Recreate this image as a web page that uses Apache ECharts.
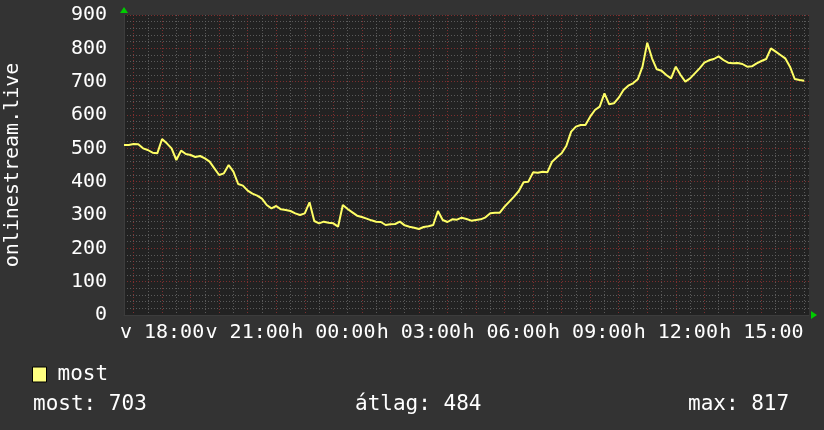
<!DOCTYPE html>
<html>
<head>
<meta charset="utf-8">
<script src="https://cdn.jsdelivr.net/npm/echarts@6/dist/echarts.min.js"></script>
<style>
html,body{margin:0;padding:0;background:#333333;}
#c{width:824px;height:430px;}
</style>
</head>
<body>
<div id="c"></div>
<script>
// ---- data ----
const seriesName = 'most';
const yAxisTitle = 'onlinestream.live';
const startMinute = 16 * 60 + 40;   // first sample: Sunday 16:40, 10-minute steps
const stepMinutes = 10;
const values = [
  510,510,513,512,500,495,487,485,528,515,
  500,465,493,483,480,474,477,470,460,440,
  420,425,450,430,393,388,373,364,358,349,
  330,320,327,317,315,312,305,300,305,338,
  282,275,280,277,275,265,330,318,308,298,
  294,289,284,280,279,270,272,273,280,269,
  265,262,258,264,266,270,312,285,279,287,
  286,292,288,283,285,287,293,305,307,307,
  325,340,355,372,398,400,428,427,430,428,
  460,473,485,508,550,565,570,570,595,615,
  625,665,632,635,652,675,688,695,707,745,
  817,770,737,733,720,710,745,720,700,710,
  725,740,757,764,768,776,765,757,755,756,
  753,745,746,755,762,768,800,790,780,770,
  745,708,705,703,null
];
const tickLabels = ['v 18:00','v 21:00','h 00:00','h 03:00','h 06:00','h 09:00','h 12:00','h 15:00'];
const yTicks = [0,100,200,300,400,500,600,700,800,900];
const statLabels = ['most: 703', 'átlag: 484', 'max: 817'];

// categories (time of each sample)
const dayLetters = ['v', 'h'];
const categories = values.map((v, i) => {
  const m = startMinute + i * stepMinutes;
  const d = Math.floor(m / 1440);
  const mm = m % 1440;
  const hh = String(Math.floor(mm / 60)).padStart(2, '0');
  const mi = String(mm % 60).padStart(2, '0');
  return dayLetters[d] + ' ' + hh + ':' + mi;
});
const isHour = (i) => categories[i].endsWith(':00');
const isHalf = (i) => categories[i].endsWith(':30');

// ---- layout ----
const G = {left: 124, top: 15, width: 685, height: 300};
const FONT = 'DejaVu Sans Mono';
const RED = 'rgba(150,50,50,0.8)';
const GRAY = 'rgba(100,100,100,0.85)';

const chart = echarts.init(document.getElementById('c'), null, {renderer: 'canvas'});
const xCommon = {
  type: 'category', data: categories, boundaryGap: false, gridIndex: 0
};
chart.setOption({
  backgroundColor: '#333333',
  animation: false,
  grid: {left: G.left, top: G.top, width: G.width, height: G.height,
         containLabel: false, outerBoundsMode: 'none',
         show: true, backgroundColor: '#222222', borderWidth: 0},
  legend: {
    left: 27, top: 359, itemWidth: 14, itemHeight: 15, itemGap: 8,
    icon: 'rect',
    data: [{name: seriesName, itemStyle: {color: '#ffff80', borderColor: '#000', borderWidth: 1}}],
    textStyle: {color: '#ffffff', fontFamily: FONT, fontSize: 21, padding: [0,0,0,6]}
  },
  xAxis: [
    Object.assign({}, xCommon, {
      axisLine: {show: true, lineStyle: {color: '#3c3c3c', width: 1}},
      axisTick: {show: false},
      axisLabel: {
        show: true, color: '#ffffff', fontFamily: FONT, fontSize: 20, margin: 8,
        interval: (i, v) => tickLabels.indexOf(v) >= 0,
        formatter: (v) => v
      },
      splitLine: {show: true, interval: (i) => isHour(i),
                  lineStyle: {color: RED, width: 1, type: [1, 2]}}
    }),
    Object.assign({}, xCommon, {
      position: 'bottom', show: true,
      axisLine: {show: false}, axisTick: {show: false}, axisLabel: {show: false},
      splitLine: {show: true, interval: (i) => isHalf(i),
                  lineStyle: {color: GRAY, width: 1, type: [1, 2]}}
    })
  ],
  yAxis: {
    type: 'value', min: yTicks[0], max: yTicks[yTicks.length - 1], interval: 100,
    name: yAxisTitle, nameLocation: 'middle', nameGap: 101, nameRotate: 90,
    nameTextStyle: {color: '#ffffff', fontFamily: FONT, fontSize: 20},
    axisLine: {show: true, lineStyle: {color: '#3c3c3c', width: 1}},
    axisTick: {show: false},
    axisLabel: {color: '#ffffff', fontFamily: FONT, fontSize: 20, margin: 17},
    splitLine: {show: true, lineStyle: {color: RED, width: 1, type: [1, 2]}},
    minorTick: {show: false, splitNumber: 5},
    minorSplitLine: {show: true, lineStyle: {color: GRAY, width: 1, type: [1, 2]}}
  },
  series: [{
    name: seriesName, type: 'line', data: values, xAxisIndex: 0,
    showSymbol: false, symbol: 'none', connectNulls: false,
    lineStyle: {color: '#ffff66', width: 2},
    itemStyle: {color: '#ffff66'},
    z: 5
  }],
  graphic: [
    // green axis arrows
    {type: 'polygon', shape: {points: [[G.left - 4, G.top - 2], [G.left + 4, G.top - 2], [G.left, G.top - 8]]},
     style: {fill: '#00cc00'}},
    {type: 'polygon', shape: {points: [[G.left + G.width + 2, G.top + G.height - 4], [G.left + G.width + 2, G.top + G.height + 4], [G.left + G.width + 8, G.top + G.height]]},
     style: {fill: '#00cc00'}},
    {type: 'text', left: 33, top: 394, style: {text: statLabels[0], fill: '#ffffff', font: '21px "' + FONT + '"'}},
    {type: 'text', left: 355, top: 394, style: {text: statLabels[1], fill: '#ffffff', font: '21px "' + FONT + '"'}},
    {type: 'text', left: 688, top: 394, style: {text: statLabels[2], fill: '#ffffff', font: '21px "' + FONT + '"'}}
  ]
});
</script>
</body>
</html>
